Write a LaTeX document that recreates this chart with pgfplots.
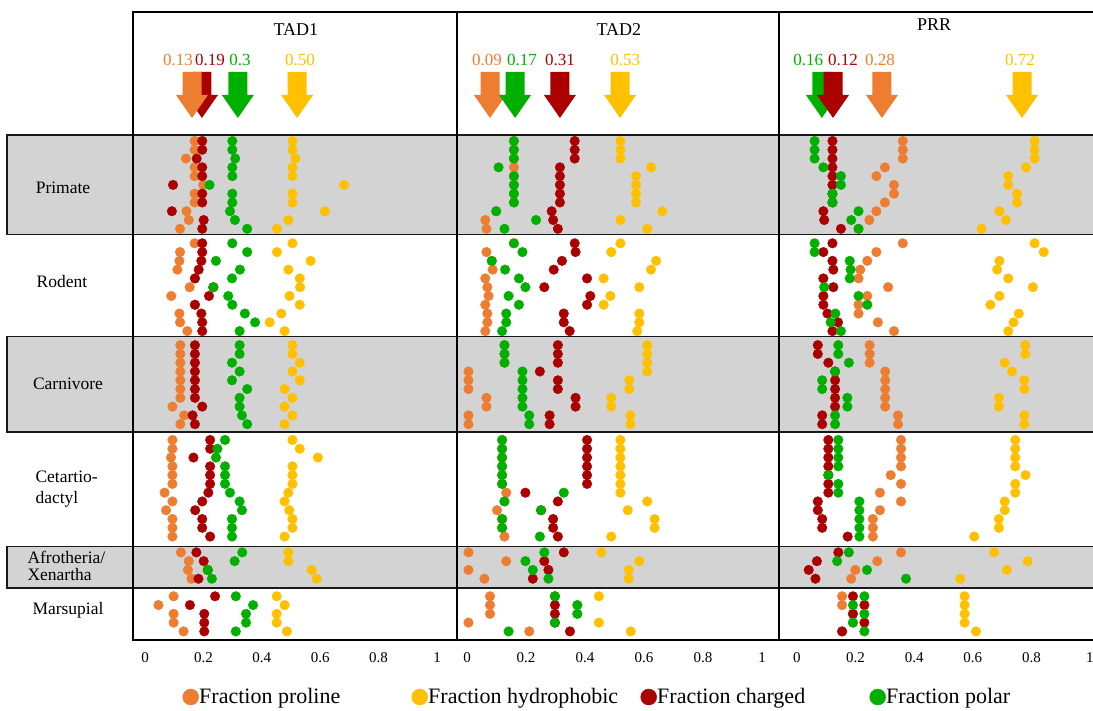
\documentclass[border=0pt]{standalone}
\usepackage{pgfplots}
\pgfplotsset{compat=1.18}
\usepackage{pgfplotstable}
\usepackage{fontspec}
\setmainfont{Liberation Serif}
\definecolor{cpro}{RGB}{237,125,49}
\definecolor{chyd}{RGB}{255,192,0}
\definecolor{ccha}{RGB}{170,0,0}
\definecolor{cpol}{RGB}{0,176,0}
\definecolor{band}{RGB}{211,211,211}

% y = row position (species), pro/hyd/cha/pol = fractions
\pgfplotstableread{
y pro hyd cha pol
1 0.170 0.505 0.196 0.299
2 0.170 0.505 0.196 0.299
3 0.140 0.515 0.177 0.309
4 0.170 0.505 0.196 0.299
5 0.170 0.505 0.196 0.299
6 0.199 0.682 0.096 0.221
7 0.170 0.505 0.196 0.299
8 0.170 0.505 0.196 0.299
9 0.142 0.616 0.092 0.291
10 0.150 0.491 0.201 0.308
11 0.120 0.452 0.196 0.350
12.65 0.170 0.505 0.196 0.299
13.65 0.120 0.452 0.196 0.350
14.65 0.118 0.567 0.193 0.243
15.65 0.111 0.491 0.184 0.325
16.65 0.171 0.530 0.171 0.298
17.65 0.153 0.531 0.234 0.234
18.65 0.090 0.495 0.219 0.285
19.65 0.171 0.530 0.171 0.299
20.65 0.118 0.467 0.193 0.342
21.65 0.120 0.427 0.196 0.377
22.65 0.145 0.478 0.196 0.324
24.25 0.121 0.505 0.171 0.324
25.25 0.121 0.505 0.171 0.324
26.25 0.121 0.530 0.171 0.298
27.25 0.121 0.505 0.171 0.324
28.25 0.121 0.530 0.171 0.298
29.25 0.121 0.478 0.171 0.350
30.25 0.121 0.505 0.171 0.324
31.25 0.094 0.478 0.196 0.324
32.25 0.134 0.505 0.163 0.332
33.25 0.121 0.478 0.171 0.350
35.05 0.094 0.505 0.223 0.274
36.05 0.094 0.530 0.223 0.248
37.05 0.089 0.592 0.166 0.243
38.05 0.094 0.505 0.223 0.274
39.05 0.094 0.505 0.223 0.274
40.05 0.094 0.505 0.223 0.274
41.05 0.067 0.491 0.217 0.291
42.05 0.094 0.478 0.196 0.324
43.05 0.072 0.494 0.172 0.332
44.05 0.094 0.505 0.196 0.298
45.05 0.094 0.505 0.196 0.298
46.05 0.094 0.478 0.223 0.298
47.85 0.123 0.491 0.176 0.333
48.85 0.150 0.491 0.201 0.307
49.85 0.147 0.571 0.215 0.215
50.85 0.159 0.588 0.183 0.229
52.85 0.098 0.451 0.240 0.311
53.85 0.046 0.478 0.154 0.370
54.85 0.098 0.451 0.203 0.346
55.85 0.098 0.451 0.203 0.346
56.85 0.132 0.486 0.203 0.311
}\tadone

\pgfplotstableread{
y pro hyd cha pol
1 0.159 0.520 0.365 0.159
2 0.159 0.520 0.365 0.159
3 0.159 0.520 0.365 0.159
4 0.159 0.624 0.315 0.107
5 0.159 0.573 0.315 0.159
6 0.159 0.573 0.315 0.159
7 0.159 0.573 0.315 0.159
8 0.159 0.573 0.315 0.159
9 0.099 0.662 0.287 0.099
10 0.062 0.520 0.292 0.234
11 0.066 0.611 0.308 0.127
12.65 0.159 0.520 0.365 0.159
13.65 0.066 0.489 0.368 0.188
14.65 0.084 0.641 0.322 0.084
15.65 0.087 0.624 0.294 0.129
16.65 0.062 0.463 0.407 0.176
17.65 0.069 0.584 0.262 0.198
18.65 0.073 0.486 0.418 0.141
19.65 0.062 0.463 0.407 0.176
20.65 0.069 0.584 0.328 0.133
21.65 0.069 0.584 0.328 0.133
22.65 0.062 0.577 0.348 0.119
24.25 0.127 0.611 0.308 0.127
25.25 0.127 0.611 0.308 0.127
26.25 0.127 0.611 0.308 0.127
27.25 0.005 0.611 0.247 0.188
28.25 0.005 0.550 0.308 0.188
29.25 0.005 0.550 0.308 0.188
30.25 0.066 0.489 0.368 0.188
31.25 0.066 0.489 0.368 0.188
32.25 0.005 0.554 0.280 0.211
33.25 0.005 0.554 0.280 0.211
35.05 0.119 0.520 0.407 0.119
36.05 0.119 0.520 0.407 0.119
37.05 0.119 0.520 0.407 0.119
38.05 0.119 0.520 0.407 0.119
39.05 0.119 0.520 0.407 0.119
40.05 0.119 0.520 0.407 0.119
41.05 0.133 0.520 0.198 0.328
42.05 0.127 0.611 0.308 0.127
43.05 0.102 0.545 0.251 0.251
44.05 0.119 0.636 0.292 0.119
45.05 0.119 0.636 0.292 0.119
46.05 0.127 0.489 0.308 0.247
47.85 0.005 0.455 0.328 0.262
48.85 0.133 0.584 0.262 0.198
49.85 0.005 0.548 0.276 0.223
50.85 0.059 0.548 0.223 0.276
52.85 0.078 0.447 0.298 0.298
53.85 0.078 0.374 0.298 0.374
54.85 0.078 0.374 0.298 0.374
55.85 0.005 0.447 0.298 0.298
56.85 0.211 0.555 0.349 0.141
}\tadtwo

\pgfplotstableread{
y pro hyd cha pol
1 0.361 0.811 0.121 0.060
2 0.361 0.811 0.121 0.060
3 0.361 0.811 0.121 0.060
4 0.300 0.782 0.121 0.090
5 0.271 0.721 0.121 0.150
6 0.331 0.721 0.121 0.150
7 0.331 0.751 0.121 0.121
8 0.300 0.751 0.121 0.121
9 0.271 0.691 0.090 0.210
10 0.247 0.713 0.093 0.185
11 0.210 0.630 0.150 0.210
12.65 0.361 0.811 0.121 0.060
13.65 0.271 0.842 0.090 0.060
14.65 0.240 0.691 0.121 0.180
15.65 0.216 0.683 0.124 0.183
16.65 0.210 0.721 0.090 0.180
17.65 0.311 0.805 0.124 0.093
18.65 0.240 0.691 0.090 0.210
19.65 0.210 0.660 0.090 0.240
20.65 0.210 0.757 0.104 0.131
21.65 0.276 0.739 0.140 0.115
22.65 0.331 0.721 0.121 0.150
24.25 0.248 0.779 0.071 0.141
25.25 0.248 0.779 0.071 0.141
26.25 0.248 0.709 0.107 0.177
27.25 0.301 0.734 0.130 0.130
28.25 0.301 0.776 0.130 0.086
29.25 0.301 0.776 0.130 0.086
30.25 0.301 0.689 0.130 0.172
31.25 0.301 0.689 0.130 0.172
32.25 0.345 0.776 0.086 0.130
33.25 0.345 0.776 0.086 0.130
35.05 0.355 0.745 0.107 0.141
36.05 0.355 0.745 0.107 0.141
37.05 0.355 0.745 0.107 0.141
38.05 0.355 0.745 0.107 0.141
39.05 0.320 0.780 0.107 0.107
40.05 0.355 0.745 0.107 0.141
41.05 0.283 0.745 0.107 0.141
42.05 0.355 0.709 0.071 0.213
43.05 0.283 0.709 0.071 0.213
44.05 0.259 0.689 0.086 0.213
45.05 0.259 0.689 0.086 0.213
46.05 0.259 0.605 0.173 0.213
47.85 0.355 0.673 0.141 0.177
48.85 0.274 0.787 0.068 0.137
49.85 0.199 0.716 0.040 0.239
50.85 0.185 0.557 0.063 0.372
52.85 0.154 0.572 0.191 0.230
53.85 0.154 0.572 0.230 0.191
54.85 0.191 0.572 0.191 0.230
55.85 0.191 0.572 0.230 0.191
56.85 0.154 0.611 0.154 0.230
}\prr

\newcommand{\barrow}[2]{%
  \fill[#2] (axis cs:#1,-6.86) ++(-9.5pt,0pt) -- ++(19pt,0pt) -- ++(0pt,-23pt)
    -- ++(6.5pt,0pt) -- ++(-16pt,-23pt) -- ++(-16pt,23pt) -- ++(6.5pt,0pt) -- cycle;}

\pgfplotsset{
  panel/.style={scale only axis, height=628pt, anchor=north west,
    y dir=reverse, ymin=-13.69, ymax=57.83, ytick=\empty,
    xtick={0,0.2,0.4,0.6,0.8,1}, xticklabels={0,0.2,0.4,0.6,0.8,1},
    major tick length=0pt,
    axis line style={line width=2.5pt, black},
    xticklabel style={font=\fontsize{15}{15}\selectfont, yshift=-9pt},
    clip=false},
  dots/.style={only marks, mark=*, mark size=4.8pt},
}

\begin{document}
\begin{tikzpicture}
% group bands
\foreach \a/\b in {135/234.5, 336.5/432.3, 546.5/587.7}{
  \fill[band] (7pt,-\a pt) rectangle (1110pt,-\b pt);
  \draw[line width=1.8pt, black!90] (7pt,-\a pt) rectangle (1110pt,-\b pt);
}
\begin{scope}[font=\fontsize{17.5}{21}\selectfont]
\node at (63pt,-188pt) {Primate};
\node at (62pt,-282pt) {Rodent};
\node at (68pt,-384pt) {Carnivore};
\node[anchor=west, align=left] at (32pt,-489pt) {Cetartio-\\dactyl};
\node[anchor=west, align=left, font=\fontsize{17.5}{17}\selectfont] at (24pt,-566pt) {Afrotheria/\\Xenartha};
\node at (68pt,-610pt) {Marsupial};
\end{scope}

% ---------------- TAD1
\begin{axis}[panel, at={(133pt,-12pt)}, width=324pt, xmin=-0.0411, xmax=1.0685,
  legend columns=4, legend cell align=left,
  legend image post style={mark size=8pt},
  legend style={at={(0.1528,-0.0908)}, anchor=west, draw=none, fill=none, inner sep=0pt,
    font=\fontsize{22}{24}\selectfont, nodes={inner xsep=0.5pt}}]
\addplot[dots, cpro] table[x=pro, y=y] {\tadone};
\addlegendentry{\makebox[212pt][l]{Fraction proline}}
\addplot[dots, chyd] table[x=hyd, y=y] {\tadone};
\addlegendentry{\makebox[212pt][l]{Fraction hydrophobic}}
\addplot[dots, ccha] table[x=cha, y=y] {\tadone};
\addlegendentry{\makebox[212pt][l]{Fraction charged}}
\addplot[dots, cpol] table[x=pol, y=y] {\tadone};
\addlegendentry{\makebox[212pt][l]{Fraction polar}}
\node[font=\fontsize{18}{18}\selectfont] at (axis cs:0.517,-11.64) {TAD1};
\barrow{0.195}{ccha}
\barrow{0.161}{cpro}
\barrow{0.318}{cpol}
\barrow{0.521}{chyd}
\begin{scope}[font=\fontsize{17}{17}\selectfont]
\node[text=cpro] at (axis cs:0.113,-8.23) {0.13};
\node[text=ccha] at (axis cs:0.223,-8.23) {0.19};
\node[text=cpol] at (axis cs:0.325,-8.23) {0.3};
\node[text=chyd] at (axis cs:0.531,-8.23) {0.50};
\end{scope}
\end{axis}

% ---------------- TAD2
\begin{axis}[panel, at={(457pt,-12pt)}, width=322pt, xmin=-0.0339, xmax=1.0576]
\addplot[dots, cpro] table[x=pro, y=y] {\tadtwo};
\addplot[dots, chyd] table[x=hyd, y=y] {\tadtwo};
\addplot[dots, ccha] table[x=cha, y=y] {\tadtwo};
\addplot[dots, cpol] table[x=pol, y=y] {\tadtwo};
\node[font=\fontsize{18}{18}\selectfont] at (axis cs:0.515,-11.64) {TAD2};
\barrow{0.078}{cpro}
\barrow{0.163}{cpol}
\barrow{0.315}{ccha}
\barrow{0.519}{chyd}
\begin{scope}[font=\fontsize{17}{17}\selectfont]
\node[text=cpro] at (axis cs:0.068,-8.23) {0.09};
\node[text=cpol] at (axis cs:0.186,-8.23) {0.17};
\node[text=ccha] at (axis cs:0.315,-8.23) {0.31};
\node[text=chyd] at (axis cs:0.536,-8.23) {0.53};
\end{scope}
\end{axis}

% ---------------- PRR
\begin{axis}[panel, at={(779pt,-12pt)}, width=324pt, xmin=-0.0614, xmax=1.0444]
\addplot[dots, cpro] table[x=pro, y=y] {\prr};
\addplot[dots, chyd] table[x=hyd, y=y] {\prr};
\addplot[dots, ccha] table[x=cha, y=y] {\prr};
\addplot[dots, cpol] table[x=pol, y=y] {\prr};
\node[font=\fontsize{18}{18}\selectfont] at (axis cs:0.468,-12.2) {PRR};
\barrow{0.085}{cpol}
\barrow{0.123}{ccha}
\barrow{0.290}{cpro}
\barrow{0.768}{chyd}
\begin{scope}[font=\fontsize{17}{17}\selectfont]
\node[text=cpol] at (axis cs:0.038,-8.23) {0.16};
\node[text=ccha] at (axis cs:0.157,-8.23) {0.12};
\node[text=cpro] at (axis cs:0.283,-8.23) {0.28};
\node[text=chyd] at (axis cs:0.761,-8.23) {0.72};
\end{scope}
\end{axis}

\pgfresetboundingbox
\useasboundingbox (0pt,0pt) rectangle (1093pt,-711pt);
\end{tikzpicture}
\end{document}
